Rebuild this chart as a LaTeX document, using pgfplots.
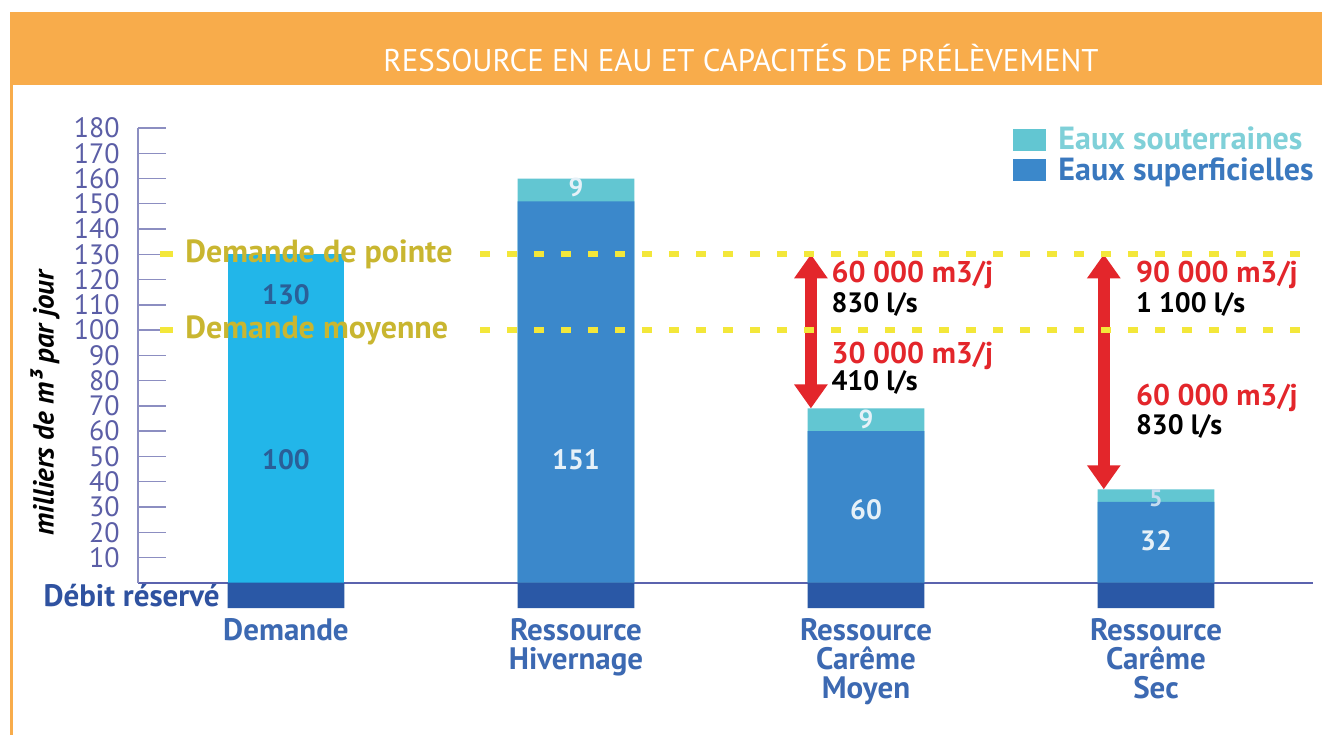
\documentclass[border=0pt]{standalone}
\usepackage{pgfplots}
\pgfplotsset{compat=1.18}
\usepackage{fontspec}
\setmainfont{PT Sans}
\usetikzlibrary{arrows.meta}
\definecolor{orangebar}{HTML}{F8AC4B}
\definecolor{demande}{HTML}{22B6E9}
\definecolor{superf}{HTML}{3B88CB}
\definecolor{souter}{HTML}{62C6D2}
\definecolor{souterleg}{HTML}{6FCCD5}
\definecolor{soutertext}{HTML}{7FD0D8}
\definecolor{superftext}{HTML}{3A78BE}
\definecolor{reserve}{HTML}{2A58A6}
\definecolor{tickc}{HTML}{5B5EA6}
\definecolor{axisc}{HTML}{5B63AE}
\definecolor{xlab}{HTML}{3C69B2}
\definecolor{debitc}{HTML}{2F52A0}
\definecolor{yellowc}{HTML}{F3E73A}
\definecolor{goldc}{HTML}{C9B630}
\definecolor{redc}{HTML}{E3262B}
\definecolor{darkval}{HTML}{2A5F98}
\definecolor{lightval}{HTML}{E6F1F8}
\pgfplotsset{sqlegend/.style={legend image code/.code={\draw[##1,draw=none] (0pt,-5.5pt) rectangle (16.5pt,5.5pt);}}}
\begin{document}
\begin{tikzpicture}[x=1pt,y=1pt]
\useasboundingbox (0,0) rectangle (661,367.5);
\fill[white] (0,0) rectangle (661,367.5);
\fill[orangebar] (5,325) rectangle (661,361.5);
\fill[orangebar] (5,0) rectangle (6.5,325);
\node[text=white, font=\fontsize{15.7}{16}\selectfont, xscale=0.985] at (370.5,338.5) {RESSOURCE EN EAU ET CAPACITÉS DE PRÉLÈVEMENT};
\node[rotate=90, font=\bfseries\itshape\fontsize{14.5}{15}\selectfont] at (22.5,166) {milliers de m³ par jour};
\node[anchor=east, inner sep=0pt, text=debitc, font=\bfseries\fontsize{15.5}{16}\selectfont] at (110,69.5) {Débit réservé};
\begin{axis}[
  at={(69pt,63.5pt)}, anchor=south west,
  scale only axis, width=587.5pt, height=240pt,
  xmin=-0.5103, xmax=3.5414, ymin=-10, ymax=180,
  clip=false,
  axis line style={draw=none},
  xtick={0,1,2,3},
  xticklabels={Demande, Ressource\\Hivernage, Ressource\\Carême\\Moyen, Ressource\\Carême\\Sec},
  xticklabel style={align=center, text=xlab, anchor=north, inner sep=0pt, yshift=-5pt,
    font=\bfseries\fontsize{15.5}{14.4}\selectfont},
  x tick style={draw=none},
  ytick={10,20,...,180},
  ytick pos=left,
  tick align=inside, major tick length=14pt,
  y tick style={draw=tickc!70, line width=0.7pt},
  yticklabel style={text=tickc, anchor=east, inner sep=0pt, xshift=-9pt,
    font=\fontsize{14}{14}\selectfont},
  /pgf/number format/assume math mode=true,
  legend style={at={(1,1.012)}, anchor=north east, xshift=6.5pt, draw=none, fill=none,
    font=\bfseries\fontsize{16}{16}\selectfont, row sep=-1.5pt, inner sep=0pt,
    cells={anchor=west}, nodes={inner xsep=6pt}},
]
\draw[axisc, line width=1pt] (axis cs:-0.5103,0) -- (axis cs:3.5414,0);
\draw[tickc!70, line width=0.8pt] (axis cs:-0.5103,0) -- (axis cs:-0.5103,180);
\addplot[ybar, bar width=0.403, bar shift=0pt, fill=demande, draw=none, forget plot] coordinates {(0,130)};
\addplot[ybar, bar width=0.403, bar shift=0pt, fill=souter, draw=none, sqlegend] coordinates {(1,160) (2,69) (3,37)};
\addlegendentry{\textcolor{soutertext}{Eaux souterraines}}
\addplot[ybar, bar width=0.403, bar shift=0pt, fill=superf, draw=none, sqlegend] coordinates {(1,151) (2,60) (3,32)};
\addlegendentry{\textcolor{superftext}{Eaux superficielles}}
\addplot[ybar, bar width=0.403, bar shift=0pt, fill=reserve, draw=none, forget plot] coordinates {(0,-10) (1,-10) (2,-10) (3,-10)};
% value labels
\node[text=darkval, font=\bfseries\fontsize{14}{14}\selectfont] at (axis cs:0,114) {130};
\node[text=darkval, font=\bfseries\fontsize{14}{14}\selectfont] at (axis cs:0,48.6) {100};
\node[text=lightval, font=\bfseries\fontsize{14}{14}\selectfont] at (axis cs:1,48.6) {151};
\node[text=lightval, font=\bfseries\fontsize{13}{13}\selectfont] at (axis cs:1,156.3) {9};
\node[text=lightval, font=\bfseries\fontsize{14}{14}\selectfont] at (axis cs:2,29) {60};
\node[text=lightval, font=\bfseries\fontsize{13}{13}\selectfont] at (axis cs:2,64.6) {9};
\node[text=lightval, font=\bfseries\fontsize{14}{14}\selectfont] at (axis cs:3,16.6) {32};
\node[text=lightval!80!superf, font=\bfseries\fontsize{12}{12}\selectfont] at (axis cs:3,33.5) {5};
% red arrows
\draw[redc, line width=6pt, {Triangle[width=16pt,length=12pt]}-{Triangle[width=16pt,length=12pt]}] (axis cs:1.81,130) -- (axis cs:1.81,69);
\draw[redc, line width=6pt, {Triangle[width=16pt,length=12pt]}-{Triangle[width=16pt,length=12pt]}] (axis cs:2.82,130) -- (axis cs:2.82,37);
% demand lines
\draw[yellowc, line width=3pt] (axis cs:-0.434,130) -- (axis cs:-0.39,130);
\draw[yellowc, line width=3pt] (axis cs:-0.434,100) -- (axis cs:-0.39,100);
\draw[yellowc, line width=3pt, dash pattern=on 5pt off 8.5pt] (axis cs:0.669,130) -- (axis cs:3.5414,130);
\draw[yellowc, line width=3pt, dash pattern=on 5pt off 8.5pt] (axis cs:0.669,100) -- (axis cs:3.5414,100);
\node[anchor=west, inner sep=0pt, text=goldc, font=\bfseries\fontsize{16}{16}\selectfont] at (axis cs:-0.348,130) {Demande de pointe};
\node[anchor=west, inner sep=0pt, text=goldc, font=\bfseries\fontsize{16}{16}\selectfont] at (axis cs:-0.348,100) {Demande moyenne};
% arrow labels
\node[anchor=west, inner sep=0pt, text=redc, font=\bfseries\fontsize{15}{15}\selectfont] at (axis cs:1.88,121.8) {60 000 m3/j};
\node[anchor=west, inner sep=0pt, font=\bfseries\fontsize{14}{14}\selectfont] at (axis cs:1.88,110) {830 l/s};
\node[anchor=west, inner sep=0pt, text=redc, font=\bfseries\fontsize{15}{15}\selectfont] at (axis cs:1.88,89.8) {30 000 m3/j};
\node[anchor=west, inner sep=0pt, font=\bfseries\fontsize{14}{14}\selectfont] at (axis cs:1.88,79.1) {410 l/s};
\node[anchor=west, inner sep=0pt, text=redc, font=\bfseries\fontsize{15}{15}\selectfont] at (axis cs:2.93,121.8) {90 000 m3/j};
\node[anchor=west, inner sep=0pt, font=\bfseries\fontsize{14}{14}\selectfont] at (axis cs:2.93,110) {1 100 l/s};
\node[anchor=west, inner sep=0pt, text=redc, font=\bfseries\fontsize{15}{15}\selectfont] at (axis cs:2.93,73.2) {60 000 m3/j};
\node[anchor=west, inner sep=0pt, font=\bfseries\fontsize{14}{14}\selectfont] at (axis cs:2.93,61.7) {830 l/s};
\end{axis}
\end{tikzpicture}
\end{document}
